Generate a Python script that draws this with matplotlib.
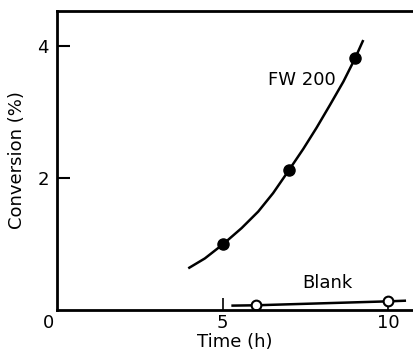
import matplotlib
matplotlib.use("Agg")
import matplotlib.pyplot as plt

plt.rcParams['font.family'] = ['DejaVu Sans']

# Measured points (h, %)
fw_time = [5, 7, 9]
fw_conv = [1.0, 2.12, 3.82]
blank_time = [6, 10]
blank_conv = [0.07, 0.13]

# Hand-drawn trend lines
fw_curve_t = [3.96, 4.46, 5.02, 5.57, 6.07, 6.52, 7.0, 7.43, 7.83, 8.24, 8.64, 8.99, 9.24]
fw_curve_c = [0.63, 0.78, 1.0, 1.24, 1.49, 1.77, 2.12, 2.44, 2.76, 3.11, 3.46, 3.81, 4.09]
blank_line_t = [5.26, 5.98, 10.0, 10.53]
blank_line_c = [0.065, 0.07, 0.13, 0.14]

fig = plt.figure(figsize=(4.13, 3.55), dpi=100)
ax = fig.add_axes([0.138, 0.127, 0.862, 0.842])

ax.plot(fw_curve_t, fw_curve_c, color='black', lw=1.8, solid_capstyle='butt',
        solid_joinstyle='round')
ax.plot(fw_time, fw_conv, 'o', color='black', ms=8)
ax.plot(blank_line_t, blank_line_c, color='black', lw=1.8, solid_capstyle='butt')
ax.plot(blank_time, blank_conv, 'o', mfc='white', mec='black', mew=1.5, ms=7)

ax.set_xlim(0, 10.74)
ax.set_ylim(0, 4.53)
ax.set_xticks([5, 10])
ax.set_yticks([2, 4])
ax.tick_params(direction='in', length=9, width=1.5, labelsize=13)
ax.tick_params(axis='y', pad=6)
ax.tick_params(axis='x', pad=3, width=1.2)
for side in ['left', 'bottom', 'top']:
    ax.spines[side].set_linewidth(2)
ax.spines['right'].set_visible(False)

ax.text(-0.27, -0.2, '0', ha='center', va='center', fontsize=13)
ax.text(7.39, 3.49, 'FW 200', ha='center', va='center', fontsize=13)
ax.text(8.17, 0.41, 'Blank', ha='center', va='center', fontsize=13)

ax.set_xlabel('Time (h)', fontsize=13, labelpad=1)
ax.set_ylabel('Conversion (%)', fontsize=13, labelpad=8)

fig.savefig('out.png', dpi=100)
